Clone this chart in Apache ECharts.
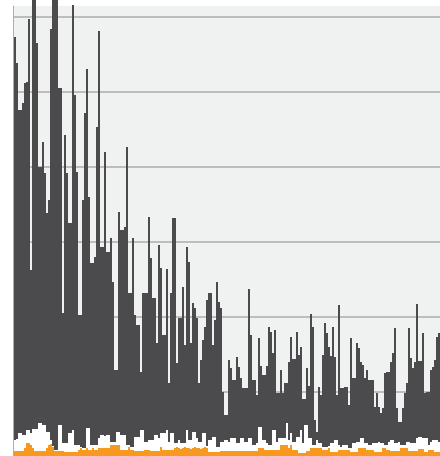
<!DOCTYPE html>
<html>
<head>
<meta charset="utf-8">
<script src="https://cdn.jsdelivr.net/npm/echarts@6/dist/echarts.min.js"></script>
<style>
  html, body { margin: 0; padding: 0; background: #ffffff; overflow: hidden; }
  /* the value axis baseline sits just below the visible window */
  #chart { width: 440px; height: 467px; }
</style>
</head>
<body>
<div id="chart"></div>
<script>
// Stacked levels per period: orange base, white band top, dark column top.
const totals = [
  430,404,357,357,364,384,385,448,197,472,482,424,300,300,325,294,254,267,438,477,
  487,472,379,379,154,332,294,244,244,462,372,295,152,152,267,354,398,270,204,204,
  210,340,436,220,220,315,215,215,229,185,97,97,255,237,237,240,320,174,174,229,
  152,142,142,95,174,174,174,250,209,169,169,124,222,199,132,132,198,84,174,249,
  249,104,149,149,180,122,220,205,124,164,159,149,84,107,127,140,167,174,174,122,
  147,185,165,159,75,52,52,107,99,87,87,110,100,89,79,79,79,178,132,87,
  87,72,129,101,92,92,101,140,135,114,137,74,74,97,74,84,84,105,130,108,
  108,135,112,120,68,68,99,81,153,140,47,35,80,72,112,144,134,120,111,140,
  110,72,162,79,79,80,80,62,129,89,89,124,119,105,102,89,97,87,87,87,
  60,74,60,54,59,94,95,95,105,114,139,59,45,45,59,74,84,139,109,99,
  105,163,106,106,134,74,75,75,97,100,107,130,134
];

const whiteLevels = [
  27,28,34,34,32,32,37,37,34,38,38,38,44,44,42,42,35,35,27,21,
  17,17,42,42,24,24,24,34,34,37,22,22,22,20,19,19,39,39,22,22,
  22,22,29,32,32,31,32,32,25,25,25,35,35,32,32,32,22,22,20,20,
  30,30,30,37,37,25,25,27,27,27,32,32,29,34,34,34,37,25,34,34,
  24,24,27,24,24,24,37,27,27,35,35,29,25,25,34,34,21,27,27,30,
  30,20,20,25,25,27,27,25,29,29,29,24,24,29,29,25,25,29,29,22,
  22,24,40,40,27,27,24,22,22,37,37,25,29,29,29,29,44,27,34,25,
  25,30,30,37,24,42,42,29,29,22,22,27,24,24,20,20,20,21,24,24,
  27,27,22,20,22,22,22,19,19,24,24,25,25,29,29,24,24,22,22,24,
  24,24,25,24,24,22,22,25,27,27,24,24,25,22,22,22,25,25,24,24,
  24,29,30,30,29,29,29,22,25,27,27,27,25
];

const baseLevels = [
  16,16,16,16,16,19,24,24,22,19,16,16,16,16,16,16,19,22,23,20,
  16,16,16,16,16,15,15,15,15,15,15,15,17,19,17,17,19,17,17,19,
  17,17,19,19,19,19,19,19,22,22,22,22,22,17,17,17,17,20,17,17,
  16,16,16,16,16,17,17,17,16,16,16,16,16,20,17,17,17,17,17,17,
  19,20,19,18,19,20,19,19,18,19,20,19,19,18,19,20,19,15,15,15,
  15,15,15,16,16,16,16,16,16,16,16,16,16,16,16,16,16,16,16,16,
  16,16,19,19,19,17,17,17,17,17,17,17,17,22,22,22,22,19,22,17,
  17,17,14,14,14,14,16,16,19,19,19,19,19,19,17,17,17,19,15,15,
  15,15,17,17,17,17,17,17,15,15,15,15,19,19,19,19,17,17,17,17,
  15,15,15,15,19,19,17,17,16,16,16,16,16,19,19,19,19,16,16,16,
  16,16,18,18,18,15,15,17,17,17,15,15,15
];

const periods = totals.map((_, i) => String(i + 1));

// Segment sizes for the stack
const orangeSeg = baseLevels.slice();
const whiteSeg = whiteLevels.map((w, i) => Math.max(0, w - baseLevels[i]));
const darkSeg = totals.map((t, i) => Math.max(0, t - Math.max(whiteLevels[i], baseLevels[i])));

const chart = echarts.init(document.getElementById('chart'), null, { renderer: 'canvas' });

const barCommon = {
  type: 'bar',
  stack: 'all',
  barCategoryGap: 0,
  barGap: 0,
  clip: false,
  silent: true
};

chart.setOption({
  animation: false,
  backgroundColor: '#ffffff',
  grid: {
    left: 14,
    right: 0,
    top: 6,
    bottom: 0,
    show: true,
    backgroundColor: '#f0f1f1',
    borderWidth: 0
  },
  xAxis: {
    type: 'category',
    data: periods,
    show: false
  },
  yAxis: {
    type: 'value',
    min: 0,
    max: 461,
    interval: 75,
    offset: 1,
    axisLabel: { show: false },
    axisTick: { show: false },
    axisLine: { show: true, lineStyle: { color: '#d8a66e', width: 1 } },
    splitLine: {
      show: true,
      showMaxLine: false,
      lineStyle: { color: '#bdbdbd', width: 2 }
    }
  },
  series: [
    Object.assign({}, barCommon, { name: 'base', data: orangeSeg, itemStyle: { color: '#f7981f' } }),
    Object.assign({}, barCommon, { name: 'band', data: whiteSeg, itemStyle: { color: '#ffffff' } }),
    Object.assign({}, barCommon, { name: 'main', data: darkSeg, itemStyle: { color: '#4b4b4d' } })
  ]
});
</script>
</body>
</html>
